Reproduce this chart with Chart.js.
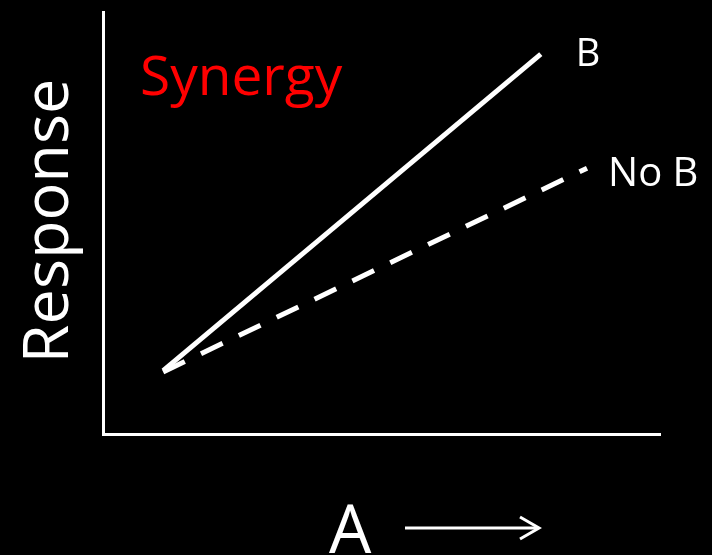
<!DOCTYPE html>
<html><head><meta charset="utf-8">
<script src="https://cdn.jsdelivr.net/npm/chart.js@4"></script>
<style>html,body{margin:0;padding:0;background:#000;}#wrap{width:712px;height:555px;}</style>
</head><body><div id="wrap"><canvas id="c" width="712" height="555"></canvas></div>
<script>
const seriesNames = ["B", "No B"];
const bX = [10.8, 78.6];
const bY = [15.0, 90.0];
const noBX = [10.8, 86.9];
const noBY = [14.7, 63.0];
const xTitle = "A";
const yTitle = "Response";
const annotationText = "Synergy";

const FONT = "'Open Sans', sans-serif";

const textPlugin = {
  id: 'texts',
  afterDraw(chart) {
    const ctx = chart.ctx;
    const xs = chart.scales.x, ys = chart.scales.y;
    ctx.save();
    ctx.fillStyle = '#fff';
    ctx.font = '38px ' + FONT;
    ctx.textBaseline = 'alphabetic';
    ctx.textAlign = 'left';
    const bEndX = xs.getPixelForValue(bX[bX.length-1]);
    const bEndY = ys.getPixelForValue(bY[bY.length-1]);
    ctx.fillText(seriesNames[0], bEndX + 35, bEndY + 12);
    ctx.font = '40px ' + FONT;
    const nEndX = xs.getPixelForValue(noBX[noBX.length-1]);
    const nEndY = ys.getPixelForValue(noBY[noBY.length-1]);
    ctx.fillText(seriesNames[1], nEndX + 21, nEndY + 18);
    ctx.fillStyle = '#ff0000';
    ctx.font = '55px ' + FONT;
    ctx.fillText(annotationText, 140, 95);
    ctx.fillStyle = '#fff';
    ctx.save();
    ctx.translate(68, 221);
    ctx.rotate(-Math.PI/2);
    ctx.font = '63px ' + FONT;
    ctx.textAlign = 'center';
    ctx.fillText(yTitle, 0, 0);
    ctx.restore();
    ctx.font = '67px ' + FONT;
    ctx.textAlign = 'left';
    ctx.fillText(xTitle, 329, 553);
    ctx.strokeStyle = '#fff';
    ctx.lineWidth = 3;
    ctx.beginPath();
    ctx.moveTo(405, 528); ctx.lineTo(538, 528);
    ctx.stroke();
    ctx.beginPath();
    ctx.moveTo(520, 517); ctx.lineTo(539, 528); ctx.lineTo(520, 539);
    ctx.stroke();
    ctx.restore();
  }
};

const bgPlugin = {
  id: 'bg',
  beforeDraw(chart) {
    const ctx = chart.ctx;
    ctx.save();
    ctx.fillStyle = '#000';
    ctx.fillRect(0, 0, chart.width, chart.height);
    ctx.restore();
  }
};

new Chart(document.getElementById('c'), {
  type: 'line',
  data: {
    datasets: [
      {
        label: seriesNames[0],
        data: bX.map((x, i) => ({x, y: bY[i]})),
        borderColor: '#fff',
        borderWidth: 5,
        pointRadius: 0,
        fill: false
      },
      {
        label: seriesNames[1],
        data: noBX.map((x, i) => ({x, y: noBY[i]})),
        borderColor: '#fff',
        borderWidth: 5,
        borderDash: [24, 18],
        pointRadius: 0,
        fill: false
      }
    ]
  },
  options: {
    responsive: false,
    animation: false,
    devicePixelRatio: 1,
    layout: { padding: { left: 103, top: 12, right: 52, bottom: 121 } },
    plugins: { legend: { display: false }, tooltip: { enabled: false } },
    scales: {
      x: {
        type: 'linear', min: 0, max: 100,
        ticks: { display: false },
        grid: { display: false, drawTicks: false },
        border: { display: true, color: '#fff', width: 3 }
      },
      y: {
        type: 'linear', min: 0, max: 100,
        ticks: { display: false },
        grid: { display: false, drawTicks: false },
        border: { display: true, color: '#fff', width: 3 }
      }
    }
  },
  plugins: [bgPlugin, textPlugin]
});
</script>
</body></html>
